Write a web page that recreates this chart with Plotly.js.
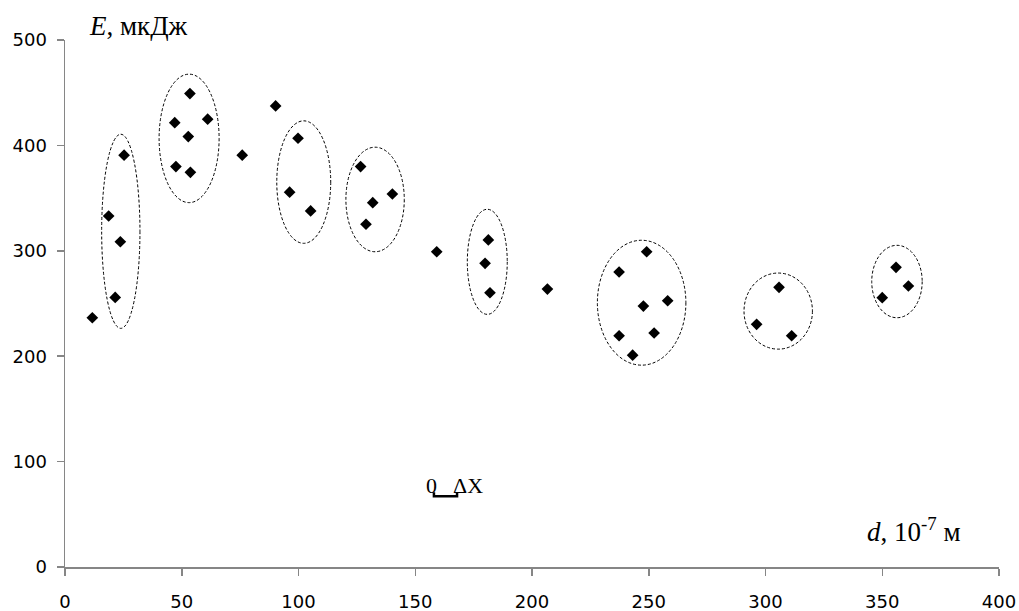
<!DOCTYPE html>
<html>
<head>
<meta charset="utf-8">
<script src="https://cdn.plot.ly/plotly-3.0.1.min.js"></script>
<style>html,body{margin:0;padding:0;background:#fff;}#chart{width:1019px;height:611px;}</style>
</head>
<body>
<div id="chart"></div>
<script>
// Measured points: d (10^-7 m) and E (мкДж)
const dValues = [11.7, 18.7, 23.7, 21.5, 25.3, 47.0, 53.5, 61.1, 52.8, 47.5, 53.7, 75.9, 90.2, 99.8, 96.2, 105.2,
  126.6, 140.2, 131.8, 128.9, 159.2, 181.3, 179.9, 182.0, 206.6, 249.1, 237.3, 258.1, 247.7, 252.3, 237.3, 243.1,
  305.8, 296.2, 311.2, 355.9, 361.2, 350.0];
const eValues = [236.5, 333.0, 308.6, 255.8, 390.7, 421.6, 449.2, 424.9, 408.4, 379.9, 374.5, 390.7, 437.5, 406.8, 355.6, 337.8,
  379.9, 353.9, 345.7, 325.2, 299.1, 310.3, 288.1, 260.2, 263.7, 299.1, 279.9, 252.6, 247.6, 222.0, 219.4, 201.0,
  265.3, 230.2, 219.4, 284.3, 266.6, 255.5];

// Dashed cluster outlines (data-space bounds)
const clusterDMin = [15.7, 40.3, 90.7, 120.3, 172.3, 228.0, 290.8, 345.5];
const clusterDMax = [32.1, 66.0, 113.8, 145.3, 189.4, 265.9, 320.1, 367.1];
const clusterEMin = [226.4, 345.7, 307.1, 299.1, 239.7, 191.5, 206.7, 236.5];
const clusterEMax = [410.6, 467.6, 423.3, 398.3, 339.4, 310.0, 278.9, 305.2];

const xTicks = [0, 50, 100, 150, 200, 250, 300, 350, 400];
const yTicks = [0, 100, 200, 300, 400, 500];

const axisGray = '#868686';
const tickFont = {family: 'DejaVu Sans', size: 18, color: '#000'};
const serif = 'Liberation Serif, Times New Roman, serif';

const shapes = clusterDMin.map((d0, i) => ({
  type: 'circle', xref: 'x', yref: 'y',
  x0: d0, x1: clusterDMax[i], y0: clusterEMin[i], y1: clusterEMax[i],
  line: {color: '#000', width: 1, dash: '3px,2px'}, fillcolor: 'rgba(0,0,0,0)'
}));
// small bracket under "0  ΔX"
shapes.push({
  type: 'path', xref: 'x', yref: 'y',
  path: 'M158.0,70.9 L158.0,67.1 L167.9,67.1 L167.9,70.9',
  line: {color: '#000', width: 2.5}
});

const trace = {
  x: dValues, y: eValues, type: 'scatter', mode: 'markers',
  marker: {symbol: 'diamond', size: 9, color: '#000', line: {width: 0}},
  hoverinfo: 'x+y', showlegend: false
};

const layout = {
  width: 1019, height: 611,
  margin: {l: 65, r: 20, t: 40, b: 44, pad: 0},
  paper_bgcolor: '#fff', plot_bgcolor: '#fff',
  showlegend: false,
  xaxis: {
    range: [0, 400], autorange: false, tickvals: xTicks, ticktext: xTicks.map(String),
    showgrid: false, zeroline: false, showline: true, linecolor: axisGray, linewidth: 1.5,
    ticks: 'outside', ticklen: 7, tickcolor: axisGray, tickwidth: 1.5,
    tickfont: tickFont, ticklabelstandoff: 11
  },
  yaxis: {
    range: [0, 500], autorange: false, tickvals: yTicks, ticktext: yTicks.map(String),
    showgrid: false, zeroline: false, showline: true, linecolor: axisGray, linewidth: 1.5,
    ticks: 'outside', ticklen: 7, tickcolor: axisGray, tickwidth: 1.5,
    tickfont: tickFont, ticklabelstandoff: 6
  },
  shapes: shapes,
  annotations: [
    {xref: 'paper', yref: 'paper', x: 0.0236, y: 1.026, xanchor: 'left', yanchor: 'middle',
     text: '<i>E</i>, мкДж', showarrow: false, font: {family: serif, size: 27, color: '#000'}},
    {xref: 'paper', yref: 'paper', x: 0.8565, y: 0.07, xanchor: 'left', yanchor: 'middle',
     text: '<i>d</i>, 10<sup>-7</sup> м', showarrow: false, font: {family: serif, size: 27, color: '#000'}},
    {xref: 'x', yref: 'y', x: 157.0, y: 77.5, xanchor: 'center', yanchor: 'middle',
     text: '0', showarrow: false, font: {family: serif, size: 22, color: '#000'}},
    {xref: 'x', yref: 'y', x: 172.8, y: 77.5, xanchor: 'center', yanchor: 'middle',
     text: 'ΔX', showarrow: false, font: {family: serif, size: 22, color: '#000'}}
  ]
};

Plotly.newPlot('chart', [trace], layout, {displayModeBar: false, staticPlot: true});
</script>
</body>
</html>
